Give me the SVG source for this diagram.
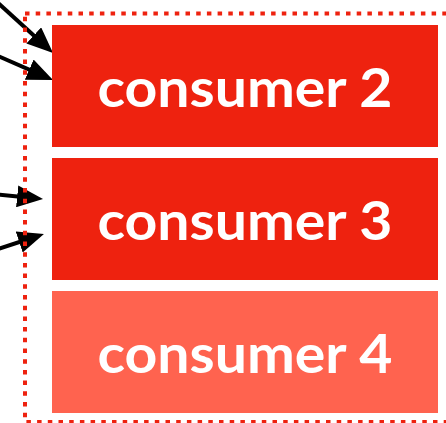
<svg xmlns="http://www.w3.org/2000/svg" width="446" height="423" viewBox="0 0 446 423">
<style>
.box{fill:#ee220f}
.box4{fill:#ff634f}
.lbl{fill:#ffffff;font-family:Lato,"Open Sans",sans-serif;font-weight:700;font-size:54px;text-anchor:middle}
.arr{stroke:#000;stroke-width:4;fill:none;marker-end:url(#ah)}
.frame{fill:none;stroke:#ee220f;stroke-width:4;stroke-dasharray:4.5 6.2}
</style>
<defs>
<marker id="ah" viewBox="0 0 26 22" refX="13" refY="11" markerWidth="26" markerHeight="22" markerUnits="userSpaceOnUse" orient="auto">
<path d="M0,0 L26,11 L0,22 z" fill="#000"/>
</marker>
</defs>
<g id="connectors">
<line class="arr" x1="-2" y1="3" x2="43.4" y2="44.2"/>
<line class="arr" x1="-2" y1="56" x2="41.1" y2="74.8"/>
<line class="arr" x1="-2" y1="194.5" x2="30.1" y2="197.7"/>
<line class="arr" x1="-2" y1="249" x2="31.6" y2="238"/>
</g>
<g id="group">
<rect class="frame" x="25" y="13.5" width="430" height="408.5"/>
</g>
<g id="consumer2">
<rect class="box" x="52" y="25" width="386" height="122"/>
<text class="lbl" x="245" y="107" textLength="295" lengthAdjust="spacingAndGlyphs">consumer 2</text>
</g>
<g id="consumer3">
<rect class="box" x="52" y="158" width="386" height="122"/>
<text class="lbl" x="245" y="240" textLength="295" lengthAdjust="spacingAndGlyphs">consumer 3</text>
</g>
<g id="consumer4">
<rect class="box4" x="52" y="291" width="386" height="122"/>
<text class="lbl" x="245" y="373" textLength="295" lengthAdjust="spacingAndGlyphs">consumer 4</text>
</g>
</svg>
